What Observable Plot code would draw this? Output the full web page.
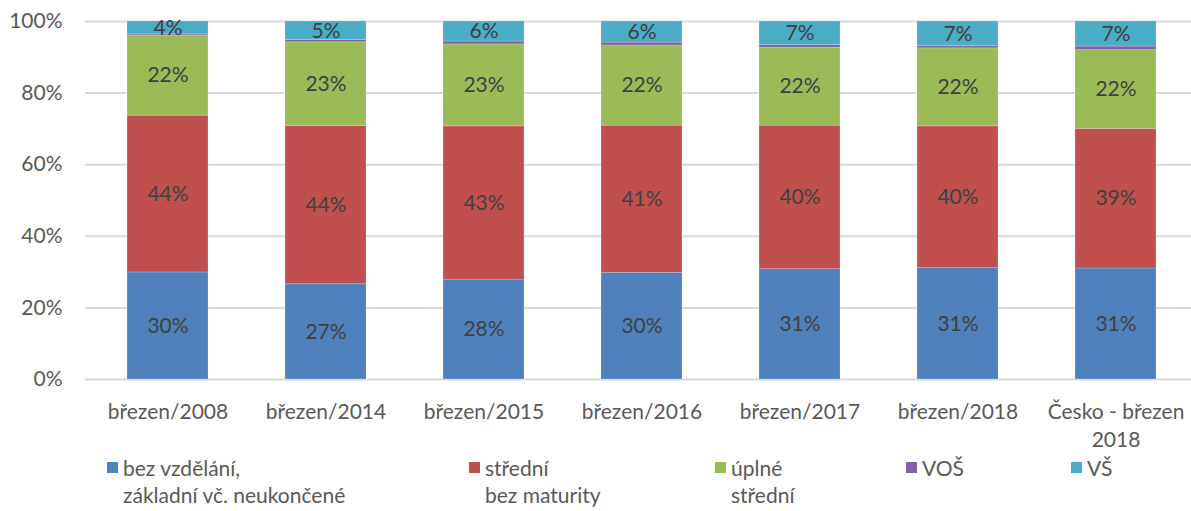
<!DOCTYPE html>
<html>
<head>
<meta charset="utf-8">
<script src="https://cdn.jsdelivr.net/npm/d3@7"></script>
<script src="https://cdn.jsdelivr.net/npm/@observablehq/plot@0.6"></script>
<style>
  html, body { margin: 0; padding: 0; background: #fff; }
  #wrap { position: relative; width: 1191px; height: 511px; font-family: Lato, sans-serif; color: #595959; overflow: hidden; }
  #wrap svg { position: absolute; left: 0; top: 0; }
  .leg { position: absolute; font-size: 21px; line-height: 27px; color: #595959; }
  .sw { position: absolute; width: 11px; height: 11px; }
</style>
</head>
<body>
<div id="wrap"></div>
<script>
const categories = ["březen/2008", "březen/2014", "březen/2015", "březen/2016", "březen/2017", "březen/2018", "Česko - březen 2018"];
const tickLabels = ["březen/2008", "březen/2014", "březen/2015", "březen/2016", "březen/2017", "březen/2018", "Česko - březen\n2018"];
const series = ["bez vzdělání, základní vč. neukončené", "střední bez maturity", "úplné střední", "VOŠ", "VŠ"];
const legendLines = [["bez vzdělání,", "základní vč. neukončené"], ["střední", "bez maturity"], ["úplné", "střední"], ["VOŠ"], ["VŠ"]];
const colors = ["#4F81BD", "#C0504D", "#9BBB59", "#8064A2", "#4BACC6"];
const zakladni = [29.9, 26.6, 27.9, 29.8, 30.8, 31.1, 31.0];
const stredniBez = [43.8, 44.2, 42.8, 41.1, 40.1, 39.6, 39.0];
const uplneStredni = [22.4, 23.4, 22.9, 22.4, 21.8, 21.8, 22.0];
const vos = [0.3, 0.6, 0.8, 0.8, 0.7, 0.6, 1.0];
const vs = [3.6, 5.2, 5.6, 5.9, 6.6, 6.9, 7.0];
const yTicks = [0, 20, 40, 60, 80, 100];

const seriesValues = [zakladni, stredniBez, uplneStredni, vos, vs];
const data = [];
categories.forEach((c, i) => {
  series.forEach((s, j) => {
    data.push({cat: c, series: s, value: seriesValues[j][i]});
  });
});

const fmtX = d => tickLabels[categories.indexOf(d)];

const chart = Plot.plot({
  width: 1191,
  height: 455,
  marginTop: 21,
  marginBottom: 76,
  marginLeft: 85,
  marginRight: 0,
  style: {fontFamily: "Lato, sans-serif", background: "transparent"},
  x: {domain: categories, range: [85, 1197], paddingInner: 0.49, paddingOuter: 0.245, label: null, tickSize: 0, tickPadding: 20, tickFormat: fmtX},
  y: {domain: [0, 100], ticks: yTicks, label: null, tickSize: 0, tickPadding: 23, tickFormat: d => d + "%"},
  color: {domain: series, range: colors},
  marks: [
    Plot.gridY(yTicks, {stroke: "#d9d9d9", strokeOpacity: 1, strokeWidth: 2}),
    Plot.axisY({ticks: yTicks, tickSize: 0, tickPadding: 23, tickFormat: d => d + "%", fontSize: 21, fill: "#595959", label: null}),
    Plot.axisX({tickSize: 0, tickPadding: 20, tickFormat: fmtX, fontSize: 21, fill: "#595959", label: null, lineHeight: 1.33}),
    Plot.barY(data, Plot.stackY({x: "cat", y: "value", z: "series", fill: "series", stroke: "#ffffff", strokeOpacity: 0.25, strokeWidth: 0.75})),
    Plot.text(data, Plot.stackY({x: "cat", y: "value", z: "series",
      text: d => d.series === "VOŠ" ? "" : Math.round(d.value) + "%",
      fill: "#404040", fontSize: 21}))
  ]
});
const wrap = document.getElementById("wrap");
wrap.appendChild(chart);

const legX = [107, 469, 715, 906, 1071];
series.forEach((s, j) => {
  const sw = document.createElement("div");
  sw.className = "sw";
  sw.style.left = legX[j] + "px";
  sw.style.top = "462px";
  sw.style.background = colors[j];
  wrap.appendChild(sw);
  const t = document.createElement("div");
  t.className = "leg";
  t.style.left = (legX[j] + 16) + "px";
  t.style.top = "454px";
  t.innerHTML = legendLines[j].join("<br>");
  wrap.appendChild(t);
});
</script>
</body>
</html>
